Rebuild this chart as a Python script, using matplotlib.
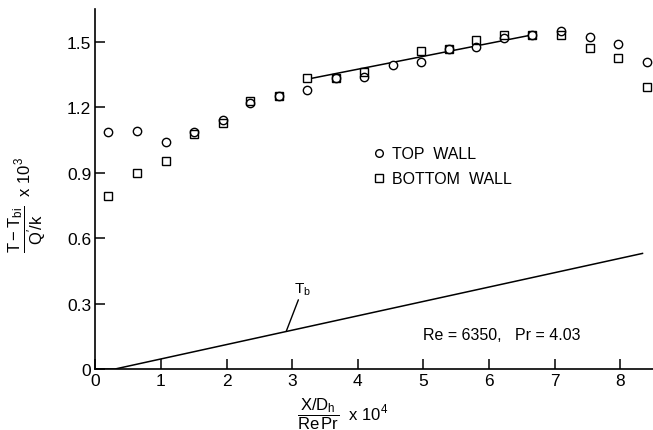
import numpy as np
import matplotlib
matplotlib.use("Agg")
import matplotlib.pyplot as plt

plt.rcParams['font.family'] = ['Liberation Sans', 'DejaVu Sans']
plt.rcParams['mathtext.fontset'] = 'custom'
plt.rcParams['mathtext.rm'] = 'Liberation Sans'
plt.rcParams['mathtext.it'] = 'Liberation Sans'

# axial position (x/Dh)/(Re Pr) x 10^4
x_pos = [0.19, 0.64, 1.07, 1.50, 1.94, 2.36, 2.80, 3.23, 3.67, 4.09,
         4.53, 4.96, 5.39, 5.80, 6.23, 6.66, 7.10, 7.54, 7.96, 8.41]
# dimensionless wall temperature x 10^3
top_wall = [1.085, 1.089, 1.042, 1.085, 1.141, 1.219, 1.250, 1.280, 1.332, 1.340,
            1.395, 1.408, 1.467, 1.477, 1.516, 1.532, 1.550, 1.523, 1.489, 1.406]
bottom_wall = [0.794, 0.897, 0.955, 1.076, 1.129, 1.228, 1.250, 1.332, 1.334, 1.363,
               np.nan, 1.459, 1.467, 1.509, 1.531, 1.532, 1.531, 1.474, 1.425, 1.294]

# fitted line through fully developed region
fit_x = [3.30, 6.66]
fit_y = [1.333, 1.532]

# bulk temperature line
tb_x = [0.0, 0.30, 8.34]
tb_y = [0.0, 0.0, 0.530]

fig = plt.figure(figsize=(6.53, 4.31), dpi=100)
ax = fig.add_axes([0.146, 0.1415, 0.854, 0.835])

mk = dict(linestyle='none', markersize=6.0, markeredgecolor='black',
          markeredgewidth=1.0)
ax.plot(x_pos, top_wall, marker='o', markerfacecolor='white', **mk)
ax.plot(x_pos, bottom_wall, marker='s', markerfacecolor='none', **mk)
ax.plot(fit_x, fit_y, color='black', linewidth=1.1, zorder=1)
ax.plot(tb_x, tb_y, color='black', linewidth=1.1)

# T_b label with leader
ax.annotate(r'T$_\mathrm{b}$', xy=(2.91, 0.173), xytext=(3.03, 0.33),
            fontsize=11, ha='left', va='bottom',
            arrowprops=dict(arrowstyle='-', color='black', lw=1.0,
                            shrinkA=0, shrinkB=0))

# legend entries
lk = dict(linestyle='none', markersize=5.5, markeredgecolor='black',
          markeredgewidth=1.0)
ax.plot([4.33], [0.99], marker='o', markerfacecolor='white', **lk)
ax.plot([4.33], [0.875], marker='s', markerfacecolor='none', **lk)
ax.text(4.52, 0.99, 'TOP  WALL', fontsize=11.5, va='center', ha='left')
ax.text(4.52, 0.875, 'BOTTOM  WALL', fontsize=11.5, va='center', ha='left')

ax.text(5.0, 0.156, 'Re = 6350,   Pr = 4.03', fontsize=11.5, va='center', ha='left')

ax.set_xlim(0, 8.5)
ax.set_ylim(0, 1.65)
ax.spines['top'].set_visible(False)
ax.spines['right'].set_visible(False)
ax.spines['left'].set_linewidth(1.2)
ax.spines['bottom'].set_linewidth(1.2)

ax.set_xticks(range(0, 9))
ax.set_xticklabels([str(i) for i in range(0, 9)])
ax.set_yticks([0, 0.3, 0.6, 0.9, 1.2, 1.5])
ax.set_yticklabels(['0', '0.3', '0.6', '0.9', '1.2', '1.5'])
ax.tick_params(axis='both', direction='in', length=7, width=1.1,
               labelsize=12.5, pad=3)

fig.text(0.042, 0.525, r'$\dfrac{\mathrm{T - T_{bi}}}{\mathrm{Q^{\prime}/k}}$  x 10$^3$',
         rotation=90, fontsize=12, ha='center', va='center')
fig.text(0.525, 0.04, r'$\dfrac{\mathrm{X / D_h}}{\mathrm{Re\,Pr}}$  x 10$^4$',
         fontsize=12, ha='center', va='center')

fig.savefig('out.png', dpi=100)
